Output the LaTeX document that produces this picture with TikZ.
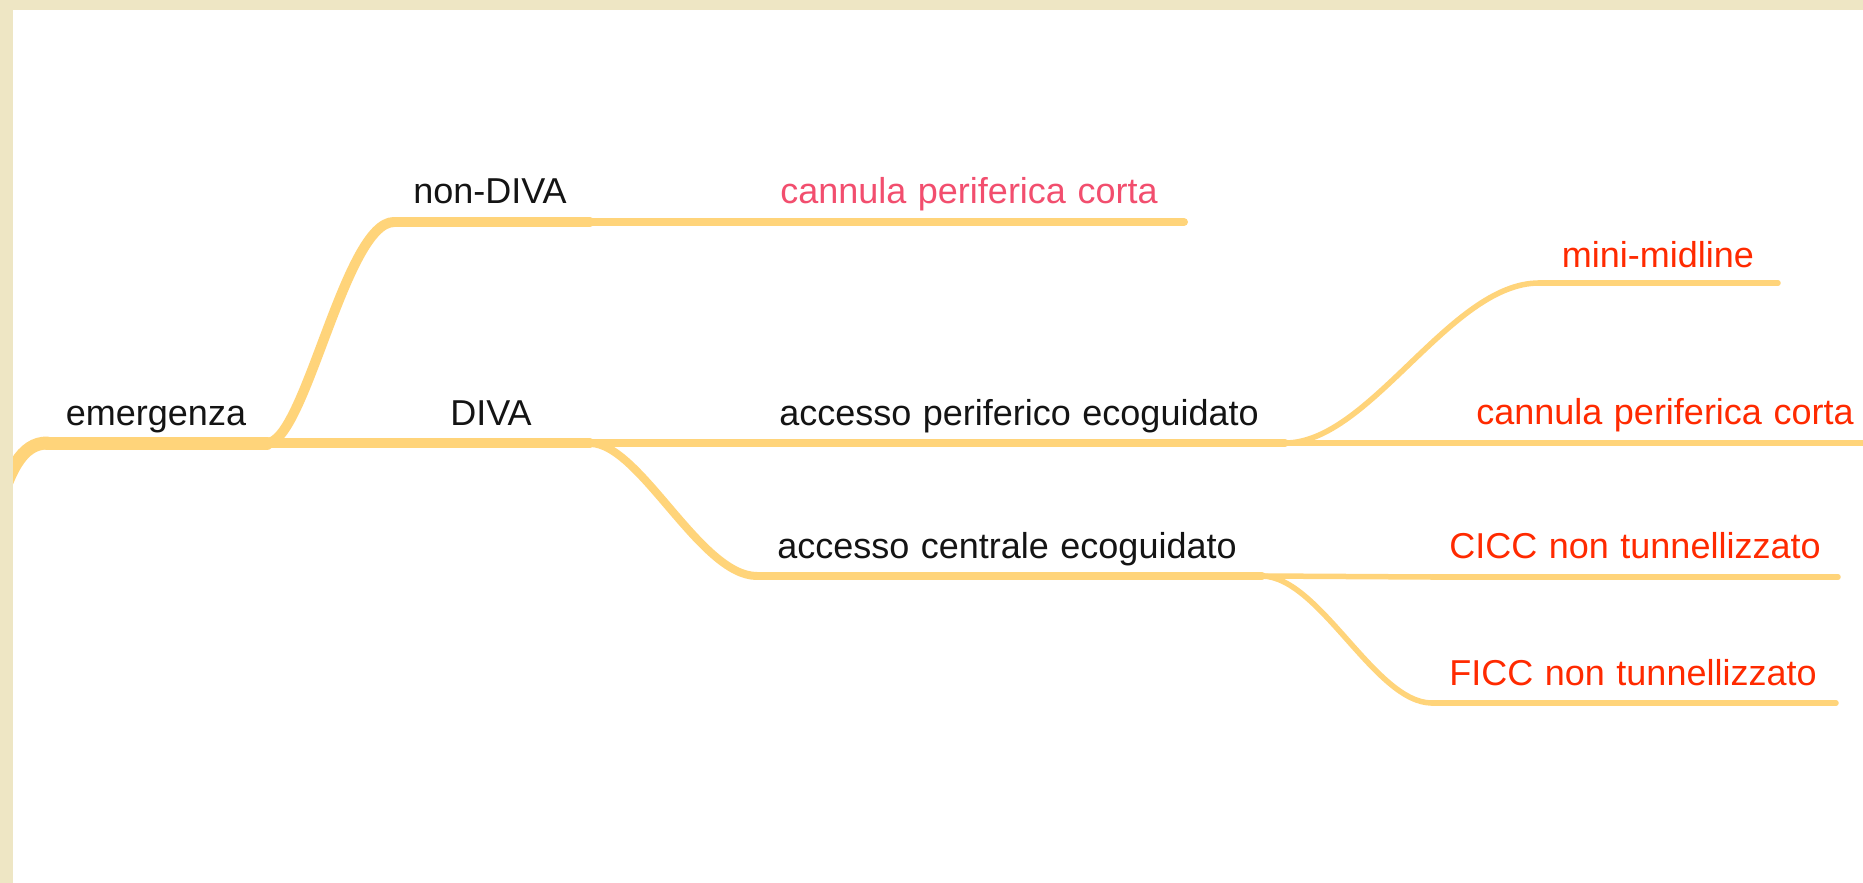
\documentclass[tikz,border=0pt]{standalone}
\usepackage{fontspec}
\setmainfont[WordSpace=1.15]{Liberation Sans}
\definecolor{branch}{HTML}{FFD47A}
\definecolor{parch}{HTML}{EEE6C4}
\definecolor{redtxt}{HTML}{FF2A00}
\definecolor{pinktxt}{HTML}{F24E6E}
\definecolor{blacktxt}{HTML}{141414}
\tikzset{
  lbl/.style={anchor=base, inner sep=0pt, font=\fontsize{36}{42}\selectfont, text=blacktxt},
  leaf/.style={lbl, text=redtxt},
  pinkleaf/.style={lbl, text=pinktxt},
  wA/.style={draw=branch, line width=13pt, line cap=round},
  wB/.style={draw=branch, line width=10pt, line cap=round},
  wC/.style={draw=branch, line width=8pt, line cap=round},
  wD/.style={draw=branch, line width=5.5pt, line cap=round},
}
\begin{document}
\begin{tikzpicture}[x=1pt, y=-1pt]
\useasboundingbox (0,0) rectangle (1863,883);
\fill[white] (0,0) rectangle (1863,883);

% underline end points of each topic
\coordinate (emIn) at (-5,520);
\coordinate (emL) at (47,443);
\coordinate (emR) at (267,443);
\coordinate (ndL) at (394,222);
\coordinate (ndR) at (590,222);
\coordinate (dvL) at (394,443);
\coordinate (dvR) at (590,443);
\coordinate (pkL) at (757,222);
\coordinate (pkR) at (1184,222);
\coordinate (apL) at (757,443);
\coordinate (apR) at (1285,443);
\coordinate (acL) at (757,576);
\coordinate (acR) at (1262,576);
\coordinate (mmL) at (1539,283);
\coordinate (mmR) at (1778,283);
\coordinate (rcL) at (1432,443);
\coordinate (rcR) at (1890,443);
\coordinate (ciL) at (1432,577);
\coordinate (ciR) at (1838,577);
\coordinate (fiL) at (1432,703);
\coordinate (fiR) at (1836,703);

% connectors
\draw[wA] (emIn) .. controls (8,470) and (22,443) .. (emL);
\draw[wB] (emR) .. controls (305,443) and (345,222) .. (ndL);
\draw[wB] (emR) -- (dvL);
\draw[wC] (ndR) -- (pkL);
\draw[wC] (dvR) -- (apL);
\draw[wC] (dvR) .. controls (640,443) and (700,576) .. (acL);
\draw[wD] (apR) .. controls (1370,443) and (1450,283) .. (mmL);
\draw[wD] (apR) -- (rcL);
\draw[wD] (acR) -- (ciL);
\draw[wD] (acR) .. controls (1320,577) and (1375,703) .. (fiL);

% underlines
\draw[wA] (emL) -- (emR);
\draw[wB] (ndL) -- (ndR);
\draw[wB] (dvL) -- (dvR);
\draw[wC] (pkL) -- (pkR);
\draw[wC] (apL) -- (apR);
\draw[wC] (acL) -- (acR);
\draw[wD] (mmL) -- (mmR);
\draw[wD] (rcL) -- (rcR);
\draw[wD] (ciL) -- (ciR);
\draw[wD] (fiL) -- (fiR);

% labels
\node[lbl] (emergenza) at (156,425) {emergenza};
\node[lbl] (nondiva) at (490,203) {non-DIVA};
\node[lbl] (diva) at (491,425) {DIVA};
\node[pinkleaf] (cannulaA) at (969,203) {cannula periferica corta};
\node[lbl] (perif) at (1019,425) {accesso periferico ecoguidato};
\node[lbl] (centr) at (1007,558) {accesso centrale ecoguidato};
\node[leaf] (mini) at (1658,267) {mini-midline};
\node[leaf] (cannulaB) at (1665,424) {cannula periferica corta};
\node[leaf] (cicc) at (1635,558) {CICC non tunnellizzato};
\node[leaf] (ficc) at (1633,685) {FICC non tunnellizzato};

% parchment frame
\fill[parch] (0,0) rectangle (1863,10);
\fill[parch] (0,0) rectangle (13,883);
\end{tikzpicture}
\end{document}
